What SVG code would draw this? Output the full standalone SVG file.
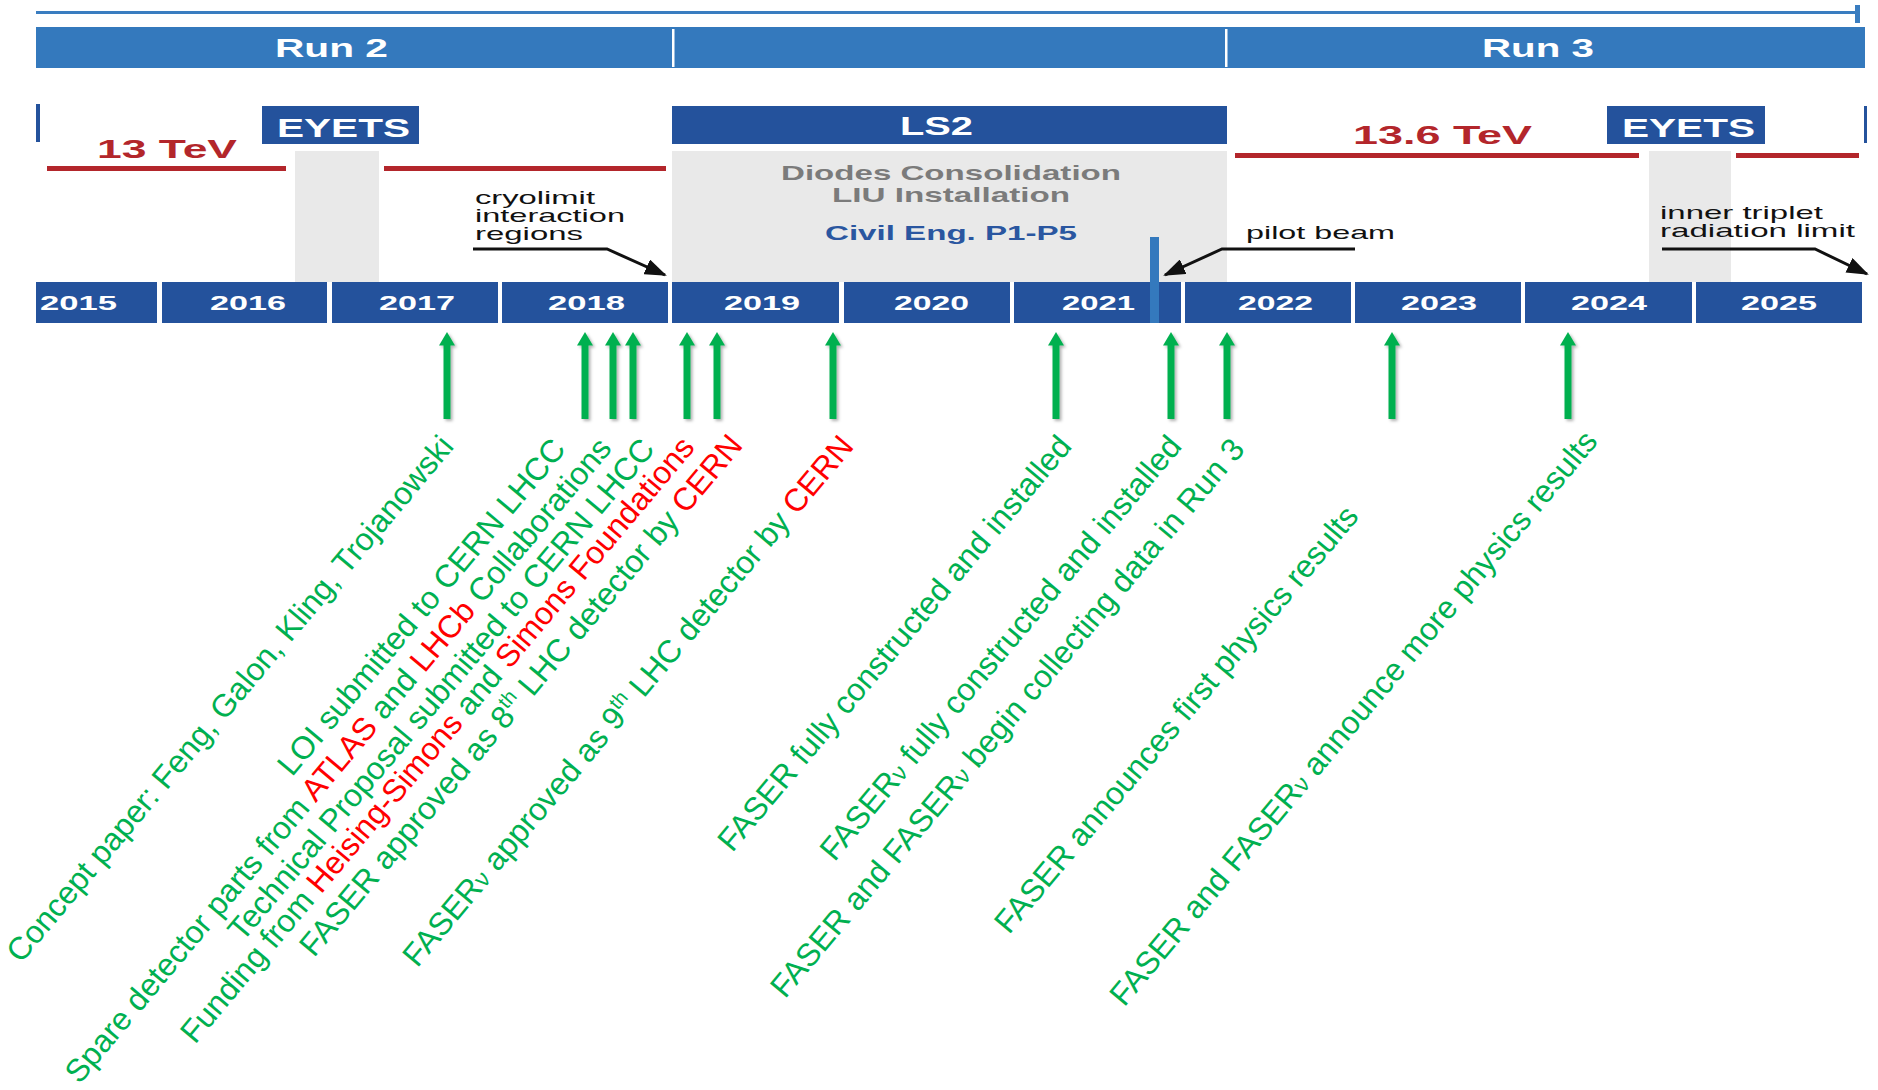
<svg xmlns="http://www.w3.org/2000/svg" xmlns:xlink="http://www.w3.org/1999/xlink" width="1878" height="1090" viewBox="0 0 1878 1090">
<style>
.run{fill:#3479bd}
.dk{fill:#24529c}
.gr{fill:#e9e9e9}
.red{fill:#b3262b}
.hb{font-family:"Liberation Sans",Arial,sans-serif;font-weight:bold;font-size:25px}
.w{fill:#fff}
.yt{font-family:"Liberation Sans",Arial,sans-serif;font-weight:bold;font-size:21px;fill:#fff}
.note{font-family:"Liberation Sans",Arial,sans-serif;font-size:19px;fill:#111}
.ls{font-family:"Liberation Sans",Arial,sans-serif;font-weight:bold;font-size:21px}
.lbl{font-family:"Liberation Sans",Arial,sans-serif;font-size:31.8px;fill:#00b050;text-anchor:end}
.r{fill:#ff0000}
.conn{fill:none;stroke:#111;stroke-width:3}
</style>
<defs>
<marker id="ah" markerUnits="userSpaceOnUse" markerWidth="22" markerHeight="16" refX="20" refY="8" orient="auto">
<path d="M0,0 L22,8 L0,16 z" fill="#111"/>
</marker>
<filter id="sh" x="-50%" y="-20%" width="200%" height="140%">
<feDropShadow dx="2" dy="2" stdDeviation="1.5" flood-color="#000" flood-opacity="0.3"/>
</filter>
<g id="garrow" filter="url(#sh)">
<rect x="-3.5" y="343" width="7" height="76" fill="#00b050"/>
<polygon points="-8,345.5 0,332 8,345.5" fill="#00b050"/>
</g>
</defs>
<rect width="1878" height="1090" fill="#fff"/>

<g id="topline">
<line x1="36" y1="12.5" x2="1860" y2="12.5" stroke="#3a7dc0" stroke-width="3"/>
<rect x="1855" y="5" width="5" height="18" fill="#3a7dc0"/>
</g>

<g id="runband">
<rect class="run" x="36" y="27" width="1829" height="41"/>
<rect x="672" y="29" width="2.5" height="38" fill="#fff"/>
<rect x="1225" y="29" width="2.5" height="38" fill="#fff"/>
<text class="hb w" x="275" y="57" textLength="113" lengthAdjust="spacingAndGlyphs">Run 2</text>
<text class="hb w" x="1482" y="57" textLength="112" lengthAdjust="spacingAndGlyphs">Run 3</text>
</g>

<g id="shading">
<rect class="gr" x="295" y="151" width="84" height="131"/>
<rect class="gr" x="672" y="151" width="555" height="131"/>
<rect class="gr" x="1649" y="151" width="82" height="131"/>
</g>

<g id="energy">
<rect class="red" x="47" y="166" width="239" height="5"/>
<rect class="red" x="384" y="166" width="282" height="5"/>
<rect class="red" x="1235" y="153" width="404" height="5"/>
<rect class="red" x="1736" y="153" width="123" height="5"/>
<text class="hb" fill="#b3262b" x="97" y="158" textLength="140" lengthAdjust="spacingAndGlyphs">13 TeV</text>
<text class="hb" fill="#b3262b" x="1353" y="144" textLength="179" lengthAdjust="spacingAndGlyphs">13.6 TeV</text>
</g>

<g id="eyets1">
<rect class="dk" x="262" y="106" width="157" height="38"/>
<text class="hb w" x="277" y="137" textLength="133" lengthAdjust="spacingAndGlyphs">EYETS</text>
</g>
<g id="eyets2">
<rect class="dk" x="1607" y="106" width="158" height="38"/>
<text class="hb w" x="1622" y="137" textLength="133" lengthAdjust="spacingAndGlyphs">EYETS</text>
</g>
<g id="edges">
<rect class="dk" x="36" y="104" width="4" height="38"/>
<rect class="dk" x="1864" y="106" width="3" height="37"/>
</g>

<g id="ls2">
<rect class="dk" x="672" y="106" width="555" height="38"/>
<text class="hb w" x="900" y="135" textLength="73" lengthAdjust="spacingAndGlyphs">LS2</text>
<text class="ls" fill="#7b7b7b" x="781" y="180" textLength="340" lengthAdjust="spacingAndGlyphs">Diodes Consolidation</text>
<text class="ls" fill="#7b7b7b" x="832" y="202" textLength="238" lengthAdjust="spacingAndGlyphs">LIU Installation</text>
<text class="ls" fill="#2a56a0" x="825" y="240" textLength="252" lengthAdjust="spacingAndGlyphs">Civil Eng. P1-P5</text>
</g>

<g id="years">
<rect class="dk" x="36" y="282" width="121" height="41"/>
<rect class="dk" x="162" y="282" width="165" height="41"/>
<rect class="dk" x="332" y="282" width="166" height="41"/>
<rect class="dk" x="502" y="282" width="166" height="41"/>
<rect class="dk" x="672" y="282" width="167" height="41"/>
<rect class="dk" x="844" y="282" width="166" height="41"/>
<rect class="dk" x="1014" y="282" width="167" height="41"/>
<rect class="dk" x="1185" y="282" width="166" height="41"/>
<rect class="dk" x="1355" y="282" width="166" height="41"/>
<rect class="dk" x="1525" y="282" width="167" height="41"/>
<rect class="dk" x="1696" y="282" width="166" height="41"/>
<text class="yt" x="40" y="310" textLength="77" lengthAdjust="spacingAndGlyphs">2015</text>
<text class="yt" x="210" y="310" textLength="76" lengthAdjust="spacingAndGlyphs">2016</text>
<text class="yt" x="379" y="310" textLength="76" lengthAdjust="spacingAndGlyphs">2017</text>
<text class="yt" x="548" y="310" textLength="77" lengthAdjust="spacingAndGlyphs">2018</text>
<text class="yt" x="724" y="310" textLength="76" lengthAdjust="spacingAndGlyphs">2019</text>
<text class="yt" x="894" y="310" textLength="75" lengthAdjust="spacingAndGlyphs">2020</text>
<text class="yt" x="1062" y="310" textLength="73" lengthAdjust="spacingAndGlyphs">2021</text>
<text class="yt" x="1238" y="310" textLength="75" lengthAdjust="spacingAndGlyphs">2022</text>
<text class="yt" x="1401" y="310" textLength="76" lengthAdjust="spacingAndGlyphs">2023</text>
<text class="yt" x="1571" y="310" textLength="76" lengthAdjust="spacingAndGlyphs">2024</text>
<text class="yt" x="1741" y="310" textLength="76" lengthAdjust="spacingAndGlyphs">2025</text>
</g>

<g id="pilotbar">
<rect x="1150" y="237" width="9" height="86" fill="#3479bd"/>
</g>

<g id="notes">
<text class="note" x="475" y="204" textLength="120" lengthAdjust="spacingAndGlyphs">cryolimit</text>
<text class="note" x="475" y="222" textLength="150" lengthAdjust="spacingAndGlyphs">interaction</text>
<text class="note" x="475" y="240" textLength="108" lengthAdjust="spacingAndGlyphs">regions</text>
<text class="note" x="1246" y="239" textLength="149" lengthAdjust="spacingAndGlyphs">pilot beam</text>
<text class="note" x="1660" y="219" textLength="163" lengthAdjust="spacingAndGlyphs">inner triplet</text>
<text class="note" x="1660" y="237" textLength="195" lengthAdjust="spacingAndGlyphs">radiation limit</text>
</g>

<g id="connectors">
<polyline class="conn" points="473,249 607,249 665,275" marker-end="url(#ah)"/>
<polyline class="conn" points="1355,249 1222,249 1165,275" marker-end="url(#ah)"/>
<polyline class="conn" points="1662,249 1815,249 1867,274" marker-end="url(#ah)"/>
<use xlink:href="#garrow" x="447"/>
<use xlink:href="#garrow" x="585"/>
<use xlink:href="#garrow" x="613"/>
<use xlink:href="#garrow" x="633"/>
<use xlink:href="#garrow" x="687"/>
<use xlink:href="#garrow" x="717"/>
<use xlink:href="#garrow" x="833"/>
<use xlink:href="#garrow" x="1056"/>
<use xlink:href="#garrow" x="1171"/>
<use xlink:href="#garrow" x="1227"/>
<use xlink:href="#garrow" x="1392"/>
<use xlink:href="#garrow" x="1568"/>
</g>

<g id="ev1"><text class="lbl" transform="translate(455,447) rotate(-50)">Concept paper: Feng, Galon, Kling, Trojanowski</text></g>
<g id="ev2"><text class="lbl" transform="translate(567,450) rotate(-50)">LOI submitted to CERN LHCC</text></g>
<g id="ev3"><text class="lbl" transform="translate(613,449) rotate(-50)">Spare detector parts from <tspan class="r">ATLAS</tspan> and <tspan class="r">LHCb</tspan> Collaborations</text></g>
<g id="ev4"><text class="lbl" transform="translate(656,450) rotate(-50)">Technical Proposal submitted to CERN LHCC</text></g>
<g id="ev5"><text class="lbl" transform="translate(696,448) rotate(-50)">Funding from <tspan class="r">Heising-Simons</tspan> and <tspan class="r">Simons Foundations</tspan></text></g>
<g id="ev6"><text class="lbl" transform="translate(744,446) rotate(-50)">FASER approved as 8<tspan font-size="20" dy="-12">th</tspan><tspan dy="12"> LHC detector by </tspan><tspan class="r">CERN</tspan></text></g>
<g id="ev7"><text class="lbl" transform="translate(855,447) rotate(-50)">FASER<tspan font-size="24">ν</tspan> approved as 9<tspan font-size="20" dy="-12">th</tspan><tspan dy="12"> LHC detector by </tspan><tspan class="r">CERN</tspan></text></g>
<g id="ev8"><text class="lbl" transform="translate(1073,447) rotate(-50)">FASER fully constructed and installed</text></g>
<g id="ev9"><text class="lbl" transform="translate(1183,447) rotate(-50)">FASER<tspan font-size="24">ν</tspan> fully constructed and installed</text></g>
<g id="ev10"><text class="lbl" transform="translate(1246,450) rotate(-50)">FASER and FASER<tspan font-size="24">ν</tspan> begin collecting data in Run 3</text></g>
<g id="ev11"><text class="lbl" transform="translate(1360,517) rotate(-50)">FASER announces first physics results</text></g>
<g id="ev12"><text class="lbl" transform="translate(1599,442) rotate(-50)">FASER and FASER<tspan font-size="24">ν</tspan> announce more physics results</text></g>
</svg>
